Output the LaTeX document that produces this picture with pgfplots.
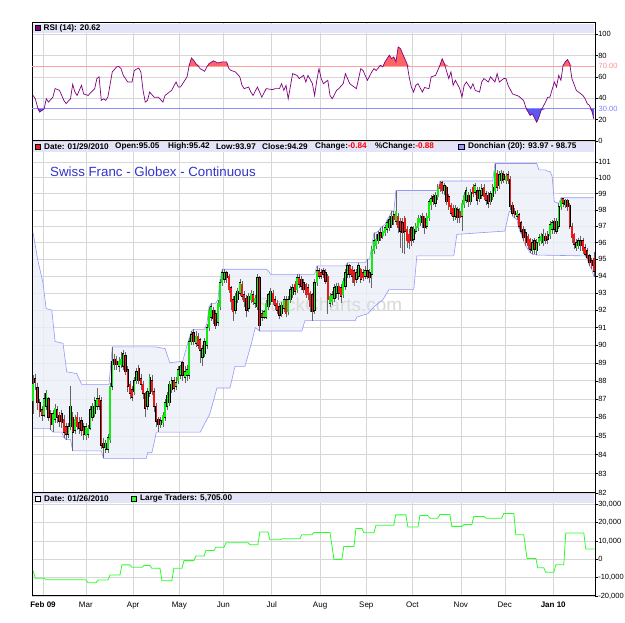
\documentclass[border=0pt]{standalone}
\usepackage{fontspec}
\setmainfont{Liberation Sans}
\usepackage{pgfplots}
\pgfplotsset{compat=1.18}
\usepackage{pgfplotstable}

\definecolor{hdr}{RGB}{228,228,248}
\definecolor{gridc}{RGB}{214,214,214}
\definecolor{donl}{RGB}{150,150,255}
\definecolor{donf}{RGB}{236,240,248}
\definecolor{upc}{RGB}{20,235,20}
\definecolor{dnc}{RGB}{235,25,25}
\definecolor{rsic}{RGB}{128,0,128}
\definecolor{rsired}{RGB}{255,100,100}
\definecolor{rsiblue}{RGB}{90,90,240}
\definecolor{lsev}{RGB}{255,160,160}
\definecolor{lthi}{RGB}{140,140,255}
\definecolor{ltc}{RGB}{40,255,40}
\definecolor{titlec}{RGB}{51,51,204}

\pgfplotstableread{
i o h l c
0 86.9 88.3 86.2 87.8
1 88.1 88.4 87.5 87.9
2 87.6 87.9 86.4 86.8
3 86.8 87.0 86.0 86.3
4 86.4 86.6 85.8 86.1
5 86.1 87.3 86.0 87.0
6 86.6 87.5 86.4 87.3
7 87.0 87.1 85.8 86.0
8 86.2 86.4 85.3 85.6
9 85.6 86.4 85.2 86.2
10 85.9 86.7 85.7 86.5
11 86.4 86.6 85.7 86.0
12 86.1 86.3 85.5 85.8
13 86.2 86.4 85.4 85.7
14 85.9 86.1 84.9 85.2
15 85.5 85.7 84.8 85.1
16 85.1 85.7 84.9 85.5
17 85.5 87.7 85.3 86.6
18 86.0 86.3 84.2 85.2
19 85.3 86.1 85.1 85.9
20 86.0 86.3 85.3 85.5
21 85.7 86.0 85.1 85.4
22 85.8 86.0 85.0 85.3
23 85.5 85.7 84.8 85.1
24 85.0 85.7 84.8 85.5
25 85.1 85.6 84.9 85.4
26 85.4 86.6 85.3 86.4
27 86.0 86.8 85.8 86.6
28 86.2 87.1 86.0 86.9
29 86.6 87.6 86.4 87.0
30 87.0 87.2 86.4 86.6
31 86.9 87.1 84.3 84.5
32 84.6 84.9 83.8 84.4
33 84.3 84.8 84.1 84.6
34 84.3 85.1 84.1 84.9
35 84.8 87.9 84.6 87.7
36 87.7 89.9 87.5 89.1
37 89.2 89.5 88.6 88.9
38 89.1 89.4 88.6 88.9
39 88.8 89.3 88.5 89.1
40 88.9 89.6 88.7 89.2
41 88.8 89.7 88.6 89.5
42 89.4 89.6 88.3 88.5
43 88.6 88.8 87.4 87.7
44 87.8 88.0 87.0 87.3
45 87.5 87.7 86.9 87.1
46 87.4 88.2 87.2 88.0
47 88.0 88.7 87.8 88.5
48 88.7 88.9 87.8 88.0
49 88.1 88.4 87.5 87.8
50 87.8 88.0 87.0 87.3
51 87.3 87.4 86.0 86.5
52 86.6 87.6 86.4 87.4
53 87.3 88.4 87.1 88.2
54 88.0 88.3 87.2 87.4
55 87.4 87.6 86.3 86.6
56 86.6 86.8 85.5 85.8
57 85.9 86.0 85.2 85.6
58 85.6 86.0 85.4 85.8
59 85.7 86.3 85.5 86.1
60 86.0 87.0 85.8 86.8
61 86.6 87.4 86.4 87.2
62 86.8 88.0 86.6 87.8
63 87.5 88.2 87.3 88.0
64 88.0 88.2 87.4 87.6
65 87.7 88.2 87.5 87.9
66 88.0 88.8 87.8 88.6
67 88.3 88.9 88.1 88.8
68 89.0 89.1 88.0 88.3
69 88.2 88.8 87.9 88.5
70 88.3 88.9 88.0 88.6
71 88.3 90.4 88.1 90.2
72 90.2 90.8 90.0 90.6
73 90.7 90.9 90.0 90.2
74 90.1 90.8 89.9 90.5
75 90.5 90.7 89.8 90.0
76 90.3 90.4 89.0 89.7
77 89.3 90.0 88.8 89.8
78 89.5 90.4 89.3 90.2
79 90.0 91.2 89.8 91.0
80 91.0 92.2 90.8 92.0
81 91.6 92.4 91.4 92.2
82 92.0 92.2 91.2 91.5
83 91.8 92.0 90.9 91.1
84 91.3 92.6 91.1 92.4
85 92.2 93.8 92.0 93.6
86 93.6 94.4 93.4 94.2
87 93.8 94.4 93.6 94.2
88 94.2 94.3 93.6 93.9
89 94.0 94.1 93.0 93.2
90 93.3 93.4 92.0 92.5
91 92.6 92.8 91.4 91.9
92 92.0 93.0 91.8 92.8
93 92.6 93.3 92.4 93.1
94 93.0 93.8 92.8 93.6
95 93.5 93.7 92.6 92.8
96 92.9 93.1 92.2 92.5
97 92.7 92.9 91.6 92.0
98 92.1 93.0 91.9 92.8
99 92.6 93.2 92.4 93.0
100 92.9 93.1 92.3 92.5
101 92.4 92.9 92.1 92.7
102 92.2 94.1 92.0 93.9
103 93.9 94.0 90.8 91.1
104 91.8 92.0 91.4 91.6
105 91.6 92.0 91.5 91.9
106 91.6 92.6 91.5 92.4
107 92.2 93.0 92.0 92.9
108 92.5 93.3 92.3 93.1
109 93.0 93.2 92.3 92.5
110 92.6 92.8 92.0 92.3
111 92.4 92.6 91.8 92.0
112 92.2 92.4 91.5 91.7
113 91.8 92.5 91.6 92.3
114 92.1 92.8 91.9 92.6
115 92.6 92.8 91.6 91.8
116 91.9 92.8 91.7 92.6
117 92.6 93.4 92.4 93.2
118 92.9 93.5 92.7 93.3
119 93.5 93.7 92.9 93.1
120 93.2 94.1 93.0 93.9
121 93.9 94.1 93.3 93.5
122 93.8 94.0 93.2 93.4
123 93.6 93.8 93.0 93.2
124 93.5 93.6 92.7 92.9
125 93.3 93.5 92.6 92.9
126 93.0 93.1 91.9 92.2
127 92.9 93.0 91.4 91.9
128 92.0 93.8 91.8 93.6
129 93.6 94.6 93.4 94.3
130 94.3 94.5 93.8 94.0
131 94.2 94.4 93.8 94.0
132 94.3 94.5 93.9 94.1
133 94.2 94.4 93.5 93.7
134 94.0 94.1 91.8 92.6
135 92.4 93.0 92.2 92.8
136 92.5 93.1 92.3 92.9
137 92.7 93.5 92.5 93.3
138 93.0 93.6 92.7 93.4
139 93.4 93.6 92.6 93.0
140 93.3 93.5 92.4 92.8
141 92.9 93.9 92.7 93.7
142 93.4 94.4 93.2 94.2
143 94.1 94.8 93.9 94.6
144 94.6 94.7 93.9 94.1
145 94.4 94.6 93.6 94.0
146 94.3 94.4 93.4 93.6
147 93.8 94.4 93.6 94.2
148 94.0 94.8 93.8 94.6
149 94.4 94.5 93.6 93.8
150 94.2 94.4 93.7 93.9
151 94.0 94.6 93.8 94.3
152 94.3 95.0 93.8 94.0
153 94.2 94.4 93.6 93.9
154 94.1 95.8 93.3 95.6
155 95.5 96.6 95.3 96.1
156 95.8 96.5 95.6 96.2
157 96.1 96.7 95.9 96.5
158 96.6 96.9 96.1 96.3
159 96.4 97.0 96.2 96.7
160 96.6 97.1 96.4 96.9
161 96.8 97.4 96.6 97.2
162 96.9 97.6 96.7 97.4
163 97.1 97.9 96.9 97.6
164 97.7 97.9 97.1 97.4
165 97.3 99.2 97.1 97.9
166 97.6 97.8 96.6 96.9
167 97.3 97.5 95.7 96.7
168 97.2 97.5 95.4 96.6
169 97.5 97.6 95.3 96.7
170 96.8 97.0 95.7 96.1
171 96.5 96.8 95.6 96.0
172 96.9 97.0 95.8 96.1
173 96.2 97.0 96.0 96.8
174 96.7 97.2 96.5 97.0
175 96.9 97.7 96.7 97.5
176 97.2 97.7 97.0 97.5
177 97.6 97.8 96.9 97.2
178 97.5 97.6 96.5 96.9
179 97.0 97.8 96.8 97.6
180 97.5 98.7 97.3 98.5
181 98.3 98.9 98.0 98.7
182 98.8 99.0 98.3 98.5
183 98.4 99.1 98.2 98.9
184 98.8 99.6 98.6 99.4
185 99.6 99.8 99.1 99.3
186 99.7 99.8 99.0 99.2
187 99.2 99.7 98.9 99.5
188 99.4 99.5 98.3 98.5
189 98.8 99.0 98.0 98.2
190 98.3 98.4 97.6 97.8
191 98.1 98.3 97.3 97.6
192 97.6 98.3 97.4 98.1
193 98.0 98.2 97.2 97.5
194 97.9 98.1 97.2 97.5
195 97.6 98.6 96.7 98.4
196 98.3 99.1 98.1 98.9
197 98.6 99.4 98.4 99.2
198 98.9 99.1 98.2 98.5
199 98.5 99.3 98.3 99.1
200 99.4 99.6 98.8 99.0
201 99.1 99.7 98.9 99.5
202 99.2 99.4 98.3 98.6
203 98.7 99.4 98.5 99.2
204 98.9 99.6 98.7 99.3
205 99.4 99.6 98.6 98.8
206 99.0 99.2 98.3 98.6
207 98.9 99.1 98.1 98.4
208 98.5 99.2 98.3 99.0
209 98.8 99.6 98.6 99.4
210 99.2 100.9 99.0 100.4
211 100.3 100.5 99.2 99.4
212 99.5 100.4 99.3 100.2
213 99.8 100.5 99.6 100.3
214 100.2 100.4 99.7 99.9
215 99.8 100.3 99.6 100.1
216 100.2 100.4 99.6 99.8
217 99.9 100.1 98.0 98.2
218 98.3 98.5 97.6 97.8
219 97.9 98.1 97.5 97.7
220 97.6 98.0 97.4 97.8
221 97.7 97.8 96.8 97.0
222 97.2 97.3 96.5 96.7
223 96.8 97.0 96.1 96.3
224 96.6 96.8 95.8 96.0
225 96.4 96.5 95.6 95.8
226 96.2 96.3 95.4 95.6
227 95.5 96.2 95.3 96.0
228 96.1 96.3 95.3 95.6
229 95.5 96.2 95.25 96.0
230 96.0 96.5 95.8 96.3
231 96.1 96.6 95.9 96.4
232 96.0 96.8 95.8 96.5
233 96.4 96.6 95.9 96.1
234 96.5 96.7 95.9 96.2
235 96.4 97.3 96.2 97.1
236 96.8 97.4 96.5 97.2
237 97.3 97.5 96.5 96.8
238 96.7 97.5 96.5 97.3
239 97.0 98.4 96.8 98.2
240 98.2 98.75 98.0 98.6
241 98.7 98.75 98.2 98.4
242 98.3 98.7 98.1 98.6
243 98.6 98.7 97.9 98.2
244 98.3 98.4 96.8 97.0
245 97.0 97.2 96.0 96.3
246 96.5 96.6 95.6 95.9
247 95.7 96.2 95.5 96.0
248 95.8 96.3 95.6 96.1
249 96.1 96.4 95.5 95.8
250 96.1 96.3 95.3 95.5
251 95.7 95.9 95.2 95.3
252 95.5 95.7 95.0 95.1
253 95.2 95.3 94.6 94.8
254 94.9 95.1 94.4 94.6
255 95.05 95.42 93.97 94.29
}\candles

\pgfplotstableread{
i v
0 96.6
2.2 94.9
4.5 93.6
5.9 92.1
8.5 92.0
10 90.2
13.6 90.1
15.3 88.5
19.8 88.4
22.1 87.8
34.5 87.8
36 89.9
55.6 89.9
60 89.8
62.2 89.0
68 89.1
71 90.4
72 90.8
73 90.9
78 90.9
79 91.2
80 92.2
81 92.4
83 92.4
84 92.6
85 93.8
86 94.4
106 94.4
107 94.3
108 94.1
128 94.1
129 94.6
142 94.6
143 94.8
151 94.8
152 95.0
153 95.0
154 95.8
155 96.6
156 96.6
157 96.7
158 96.9
159 97.0
160 97.1
161 97.4
162 97.6
163 97.9
164 97.9
165 99.2
184 99.2
185 99.8
209 99.8
210 100.9
229 100.9
230 100.5
233 100.5
234 100.4
235 100.4
236 100.1
237 98.5
239 98.4
240 98.75
255 98.75
}\donup

\pgfplotstableread{
i v
0 85.4
7.7 85.4
9 85.2
13 85.2
14 84.9
15 84.8
17 84.8
18 84.2
31 84.2
32 83.8
51.5 83.8
52 84.1
54 84.1
55 84.6
56 85.2
76 85.2
80.4 86.2
83.6 87.6
89.5 87.6
91.8 88.8
96.3 88.8
99.5 90.2
101 91.0
103 90.8
122.2 90.8
123.6 91.4
146.5 91.4
147.2 91.6
152.2 91.8
155 92.2
159 92.6
161.8 93.2
173.1 93.2
174.5 95.2
191.3 95.2
192.7 96.5
203.6 96.6
214.5 96.7
216.5 97.9
217.5 97.9
218 97.6
219 97.5
220 97.4
221 96.8
222 96.5
223 96.1
224 95.8
225 95.6
226 95.4
227 95.3
229 95.25
251 95.2
252 95.0
253 94.6
254 94.4
255 93.97
}\donlo

% channel outline: upper band forward, lower band backward
\pgfplotstableread{
i v
0 96.6
2.2 94.9
4.5 93.6
5.9 92.1
8.5 92.0
10 90.2
13.6 90.1
15.3 88.5
19.8 88.4
22.1 87.8
34.5 87.8
36 89.9
55.6 89.9
60 89.8
62.2 89.0
68 89.1
71 90.4
72 90.8
73 90.9
78 90.9
79 91.2
80 92.2
81 92.4
83 92.4
84 92.6
85 93.8
86 94.4
106 94.4
107 94.3
108 94.1
128 94.1
129 94.6
142 94.6
143 94.8
151 94.8
152 95.0
153 95.0
154 95.8
155 96.6
156 96.6
157 96.7
158 96.9
159 97.0
160 97.1
161 97.4
162 97.6
163 97.9
164 97.9
165 99.2
184 99.2
185 99.8
209 99.8
210 100.9
229 100.9
230 100.5
233 100.5
234 100.4
235 100.4
236 100.1
237 98.5
239 98.4
240 98.75
255 98.75
255 93.97
254 94.4
253 94.6
252 95.0
251 95.2
229 95.25
227 95.3
226 95.4
225 95.6
224 95.8
223 96.1
222 96.5
221 96.8
220 97.4
219 97.5
218 97.6
217.5 97.9
216.5 97.9
214.5 96.7
203.6 96.6
192.7 96.5
191.3 95.2
174.5 95.2
173.1 93.2
161.8 93.2
159 92.6
155 92.2
152.2 91.8
147.2 91.6
146.5 91.4
123.6 91.4
122.2 90.8
103 90.8
101 91.0
99.5 90.2
96.3 88.8
91.8 88.8
89.5 87.6
83.6 87.6
80.4 86.2
76 85.2
56 85.2
55 84.6
54 84.1
52 84.1
51.5 83.8
32 83.8
31 84.2
18 84.2
17 84.8
15 84.8
14 84.9
13 85.2
9 85.2
7.7 85.4
0 85.4
}\donpoly

\pgfplotstableread{
i r
0 42.6
1 39.5
2 31.7
3 27.0
4 28.6
5 30.0
6 39.5
7 36.4
9 41.0
10 49.0
12 47.4
14 38.0
15 35.0
17 39.5
18 53.0
19 45.8
20 42.6
22 52.0
23 44.0
25 42.6
28 49.0
29 58.4
30 60.0
31 38.0
32 39.5
33 38.0
34 41.0
36 64.6
38 69.3
39 69.8
40 67.7
41 61.4
43 55.2
45 55.2
46 66.0
48 68.3
49 64.6
50 47.4
51 36.4
52 38.0
53 45.8
55 41.0
57 41.0
59 36.4
60 42.6
63 47.4
65 55.2
66 50.5
67 50.5
69 56.8
70 60.0
71 70.8
72 77.7
73 75.5
74 72.4
76 67.7
78 65.2
79 69.3
80 72.4
82 75.0
84 73.0
86 74.0
88 74.0
89 67.7
90 66.0
92 64.6
94 60.0
95 52.0
96 49.0
98 50.5
99 45.8
100 42.6
102 50.5
103 45.8
104 41.0
106 49.0
109 48.0
110 49.0
112 49.0
113 53.6
114 47.4
115 52.0
116 39.5
118 63.0
120 61.4
121 58.4
123 61.4
124 55.2
125 61.4
127 53.6
128 42.6
129 56.8
130 67.7
131 58.4
132 53.6
134 56.8
135 42.6
136 39.5
138 47.4
139 49.0
141 53.6
142 63.0
144 53.6
145 52.0
147 49.0
149 67.7
150 66.0
151 61.4
152 56.8
154 64.6
155 67.7
156 66.0
158 70.8
159 69.3
160 74.0
162 80.3
163 77.0
164 78.6
165 74.0
166 88.0
167 86.5
168 81.8
169 77.0
170 72.4
171 60.0
172 50.5
173 45.8
174 52.0
175 53.6
177 45.8
178 50.0
180 49.0
181 60.0
183 61.4
184 66.0
185 70.8
186 77.0
187 72.4
189 58.4
190 64.6
191 52.0
192 56.8
194 49.0
195 41.0
196 52.0
197 55.2
199 49.0
200 53.6
201 47.4
203 45.8
204 55.2
205 58.4
207 55.2
208 60.0
210 55.2
211 63.0
212 55.2
214 58.4
215 58.4
216 52.0
218 44.0
220 42.6
221 41.6
223 38.0
224 31.7
226 23.9
227 25.5
229 17.6
230 22.3
231 28.6
233 36.4
234 41.0
235 41.0
237 55.2
238 50.5
239 61.4
240 56.8
241 70.8
242 74.0
243 76.2
244 72.4
245 58.4
247 47.4
248 45.8
250 42.6
251 39.5
252 34.8
253 33.3
254 28.6
255 20.62
}\rsidata

\pgfplotstableread{
i v
0 -6200
1 -10300
5 -10300
6 -11100
24 -11100
25 -12800
28.6 -12800
29.5 -11300
34 -11300
35 -8500
39.5 -8500
40.4 -3000
44 -3000
44.9 -4300
49.5 -4300
50.4 -3400
53.1 -3400
54 -4900
57.7 -4900
58.6 -11700
63.1 -11700
64 -4900
67.7 -4900
68.6 -700
73.1 -700
74 1800
77.7 1800
78.6 4800
82.2 4800
83.1 6600
86.8 6600
87.7 9100
97.7 9100
98.6 8000
102.2 8000
103.1 14900
106.8 14900
107.7 10700
112.2 10700
113.1 11200
121.3 11200
122.2 13400
126.8 13400
127.7 14700
135 14700
136.8 0
140.4 0
141.3 7000
145.9 7000
146.8 16900
149.5 16900
150.4 14500
155 14500
155.9 18600
164 18600
164.9 24300
169.5 24300
170.4 17700
175 17700
175.9 23900
179.5 23900
180.4 22500
184 22500
185 24500
189.5 24500
190.4 18000
195 18000
195.9 19000
199.5 19000
200.4 23400
205 23400
205.9 22500
213.1 22500
214 25000
218.6 25000
219.5 13400
223.1 13400
224.6 500
228.6 500
229.5 -4600
232.2 -4600
233.1 -7000
236.8 -7000
237.7 -2900
241.3 -2900
242.2 14400
250.4 14400
251.3 5705
255.5 5705
}\traders

\pgfplotsset{
  panel/.style={
    scale only axis, width=563pt, anchor=south west,
    xmin=-0.5, xmax=255.5,
    xtick={4.5,24,45.5,66.5,86.5,108.5,130.5,151.5,172.5,194.5,214.5,236.5},
    xmajorgrids, ymajorgrids,
    major grid style={gridc, line width=0.6pt},
    axis line style={black, line width=1pt},
    ytick pos=right, yticklabel pos=right,
    xtick pos=bottom,
    tick align=outside,
    major tick length=2.5pt,
    ytick style={black, line width=0.5pt},
    xtick style={draw=none},
    ticklabel style={font=\fontsize{7.5}{8.5}\selectfont},
    yticklabel style={inner sep=0.6pt},
    scaled y ticks=false,
  },
  errb/.style={error bars/.cd, y dir=minus, y explicit, error mark=none},
}

\begin{document}
\begin{tikzpicture}
\fill[white] (0pt,0pt) rectangle (625pt,623pt);
\path[use as bounding box] (0pt,0pt) rectangle (625pt,623pt);

% ---------------- RSI panel
\begin{axis}[panel, at={(32pt,482pt)}, height=118pt,
  ymin=0, ymax=110.4, ytick={0,20,40,60,80,100},
  yticklabels={0,20,40,60,80,100}, xticklabels={}]
\addplot[fill=rsired, draw=none] table[x=i, y expr={max(\thisrow{r},70)}]{\rsidata}
  -- (axis cs:255,70) -- (axis cs:0,70) -- cycle;
\addplot[fill=rsiblue, draw=none] table[x=i, y expr={min(\thisrow{r},30)}]{\rsidata}
  -- (axis cs:255,30) -- (axis cs:0,30) -- cycle;
\addplot[lsev, line width=1pt] coordinates {(-0.5,70) (256,70)};
\addplot[lthi, line width=1pt] coordinates {(-0.5,30) (256,30)};
\addplot[rsic, line width=0.7pt] table[x=i,y=r]{\rsidata};
\end{axis}

% ---------------- Price panel
\begin{axis}[panel, at={(32pt,130pt)}, height=352pt,
  ymode=log, ymin=82, ymax=102.35,
  ytick={82,83,84,85,86,87,88,89,90,91,92,93,94,95,96,97,98,99,100,101},
  yticklabels={82,83,84,85,86,87,88,89,90,91,92,93,94,95,96,97,98,99,100,101},
  yminorticks=false, xticklabels={}]
\addplot[fill=donf, fill opacity=0.8, draw=none] table[x=i,y=v]{\donpoly} -- cycle;
\node[text=black!15, font=\fontsize{19}{21}\selectfont, inner sep=0pt] at (axis cs:135,92.3) {StockCharts.com};
\addplot[donl, line width=0.6pt] table[x=i,y=v]{\donup};
\addplot[donl, line width=0.6pt] table[x=i,y=v]{\donlo};
% wicks
\addplot[draw=none, errb, error bar style={draw=black!60, line width=0.6pt}]
  table[x=i, y=h, y error minus expr={\thisrow{h}-\thisrow{l}}]{\candles};
% body outlines
\addplot[draw=none, errb, error bar style={draw=black, line width=2.3pt}]
  table[x=i, y expr={max(\thisrow{o},\thisrow{c})+0.03},
        y error minus expr={abs(\thisrow{o}-\thisrow{c})+0.06}]{\candles};
% up bodies
\addplot[draw=none, restrict expr to domain={\thisrow{c}-\thisrow{o}}{0:100},
  errb, error bar style={draw=upc, line width=1.5pt}]
  table[x=i, y=c, y error minus expr={\thisrow{c}-\thisrow{o}}]{\candles};
% down bodies
\addplot[draw=none, restrict expr to domain={\thisrow{o}-\thisrow{c}}{0.00001:100},
  errb, error bar style={draw=dnc, line width=1.5pt}]
  table[x=i, y=o, y error minus expr={\thisrow{o}-\thisrow{c}}]{\candles};
\end{axis}

% ---------------- Large traders panel
\begin{axis}[panel, at={(32pt,27pt)}, height=103pt,
  ymin=-20000, ymax=36240,
  ytick={-20000,-10000,0,10000,20000,30000},
  yticklabels={{-20,000},{-10,000},{0},{10,000},{20,000},{30,000}},
  xticklabels={\textbf{Feb 09},Mar,Apr,May,Jun,Jul,Aug,Sep,Oct,Nov,Dec,\textbf{Jan 10}},
  xticklabel style={font=\fontsize{8}{9}\selectfont}]
\addplot[ltc, line width=0.8pt] table[x=i,y=v]{\traders};
\end{axis}

% ---------------- headers and labels
\fill[hdr] (32.6pt,599.4pt) rectangle (594.4pt,590pt);
\fill[hdr] (32.6pt,481.4pt) rectangle (594.4pt,471pt);
\fill[hdr] (32.6pt,129.4pt) rectangle (594.4pt,119.5pt);

\begin{scope}[every node/.style={anchor=west, inner sep=0pt, font=\bfseries\fontsize{8.2}{9}\selectfont}]
\filldraw[fill=rsic, draw=black, line width=0.5pt] (35pt,592.3pt) rectangle (40.5pt,597.8pt);
\node at (43.5pt,595pt) {RSI (14): 20.62};

\filldraw[fill=dnc, draw=black, line width=0.5pt] (35pt,473.5pt) rectangle (40.5pt,479pt);
\node at (44pt,476.2pt) {Date: 01/29/2010};
\node at (115pt,476.2pt) {Open:95.05};
\node at (168pt,476.2pt) {High:95.42};
\node at (216pt,476.2pt) {Low:93.97};
\node at (262pt,476.2pt) {Close:94.29};
\node at (315pt,476.2pt) {Change:\textcolor{red}{-0.84}};
\node at (375pt,476.2pt) {\%Change:\textcolor{red}{-0.88}};
\filldraw[fill=donl, draw=black, line width=0.5pt] (458.5pt,473.5pt) rectangle (464pt,479pt);
\node at (468pt,476.2pt) {Donchian (20): 93.97 - 98.75};

\filldraw[fill=white, draw=black, line width=0.5pt] (35pt,121.7pt) rectangle (40.5pt,127.2pt);
\node at (44pt,124.5pt) {Date: 01/26/2010};
\filldraw[fill=ltc, draw=black, line width=0.5pt] (131pt,121.7pt) rectangle (136.5pt,127.2pt);
\node at (140pt,124.5pt) {Large Traders: 5,705.00};
\end{scope}

\node[anchor=west, inner sep=0pt, text=lsev!90!red, font=\fontsize{7.5}{8.5}\selectfont] at (598.5pt,557pt) {70.00};
\node[anchor=west, inner sep=0pt, text=lthi!90!blue, font=\fontsize{7.5}{8.5}\selectfont] at (598.5pt,514.5pt) {30.00};

\node[anchor=west, inner sep=0pt, text=titlec, font=\fontsize{13.3}{15}\selectfont] at (50pt,451pt) {Swiss Franc - Globex - Continuous};
\end{tikzpicture}
\end{document}
